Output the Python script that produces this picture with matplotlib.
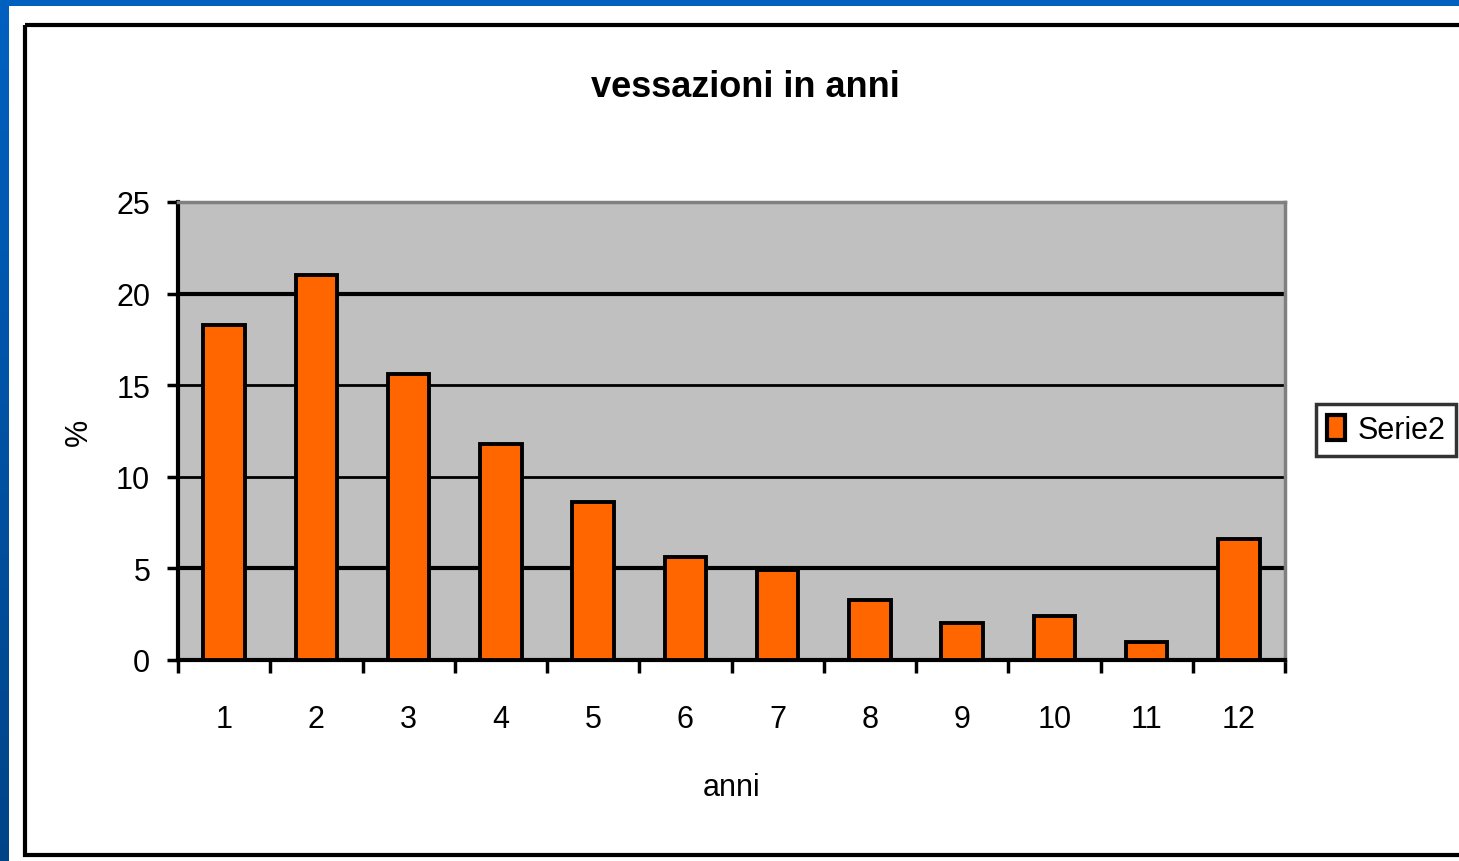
import matplotlib
matplotlib.use("Agg")
import matplotlib.pyplot as plt
import numpy as np
from matplotlib.patches import Rectangle
from matplotlib.colors import LinearSegmentedColormap

categories = ["1", "2", "3", "4", "5", "6", "7", "8", "9", "10", "11", "12"]
values = [18.3, 21.0, 15.6, 11.8, 8.6, 5.6, 4.9, 3.3, 2.0, 2.4, 1.0, 6.6]
yticks = [0, 5, 10, 15, 20, 25]
series_name = "Serie2"
title = "vessazioni in anni"
xlabel = "anni"
ylabel = "%"

FONT = ["Liberation Sans Narrow", "Liberation Sans", "DejaVu Sans"]
plt.rcParams['font.family'] = FONT

W, H = 1459, 862
fig = plt.figure(figsize=(W / 100, H / 100), dpi=100)
fig.patch.set_facecolor("#0060c0")

# background axes: blue strip, white panel, black frame
bg = fig.add_axes([0, 0, 1, 1], zorder=0)
bg.axis("off")
grad = np.linspace(0, 1, 256).reshape(-1, 1)
cmap = LinearSegmentedColormap.from_list("b", ["#0060c0", "#004488"])
bg.imshow(grad, aspect="auto", cmap=cmap, extent=[0, 9, H, 7], origin="upper", zorder=0)
bg.add_patch(Rectangle((0, 0), W, 7, facecolor="#0060c0", edgecolor="none", zorder=0))
bg.add_patch(Rectangle((9, 7), W - 9, H - 7, facecolor="white", edgecolor="none", zorder=1))
bg.add_patch(Rectangle((24.5, 25.5), W + 20, 856.5 - 25.5, facecolor="none", edgecolor="black",
                       linewidth=3, zorder=2))
bg.set_xlim(0, W)
bg.set_ylim(H, 0)

x0, x1, ytop, ybot = 178, 1285, 203, 661
ax = fig.add_axes([x0 / W, (H - ybot) / H, (x1 - x0) / W, (ybot - ytop) / H], zorder=2)
ax.set_facecolor("#c0c0c0")
x = np.arange(len(categories))
ax.bar(x, values, width=0.45, color="#ff6600", edgecolor="black", linewidth=2.8, zorder=3)
ax.set_xlim(-0.5, len(categories) - 0.5)
ax.set_ylim(0, 25)
ax.set_yticks(yticks)
ax.set_yticklabels([str(v) for v in yticks])
for v in yticks[1:-1]:
    lw = 3 if v in (5, 20) else 2
    ax.axhline(v, color="black", linewidth=lw, zorder=1)

ax.set_xticks(x)
ax.set_xticklabels(categories)
ax.set_xticks(np.arange(-0.5, len(categories), 1), minor=True)
ax.tick_params(axis="x", which="major", length=0, pad=32, labelsize=22)
ax.tick_params(axis="x", which="minor", length=9, width=2.5, direction="out", color="black")
ax.tick_params(axis="y", length=8, width=2.5, direction="out", labelsize=22, pad=12)

for s in ["left", "bottom"]:
    ax.spines[s].set_color("black")
    ax.spines[s].set_linewidth(3)
for s in ["top", "right"]:
    ax.spines[s].set_color("#808080")
    ax.spines[s].set_linewidth(2.5)

ax.set_xlabel(xlabel, fontsize=22, labelpad=27)
ax.set_ylabel(ylabel, fontsize=22, labelpad=16)
fig.text(745 / W, 1 - 88 / H, title, ha="center", va="center", fontsize=26, fontweight="bold",
         zorder=3)

handle = Rectangle((0, 0), 1, 1, facecolor="#ff6600", edgecolor="black", linewidth=3)
leg = fig.legend([handle], [series_name], loc="center", bbox_to_anchor=(1386 / W, 1 - 431 / H),
                 fontsize=22, frameon=True, fancybox=False, edgecolor="black",
                 handlelength=0.6, handleheight=0.9, handletextpad=0.4, borderpad=0.35)
leg.get_frame().set_linewidth(2.5)
leg.set_zorder(5)

fig.savefig("out.png", dpi=100, facecolor=fig.get_facecolor())
